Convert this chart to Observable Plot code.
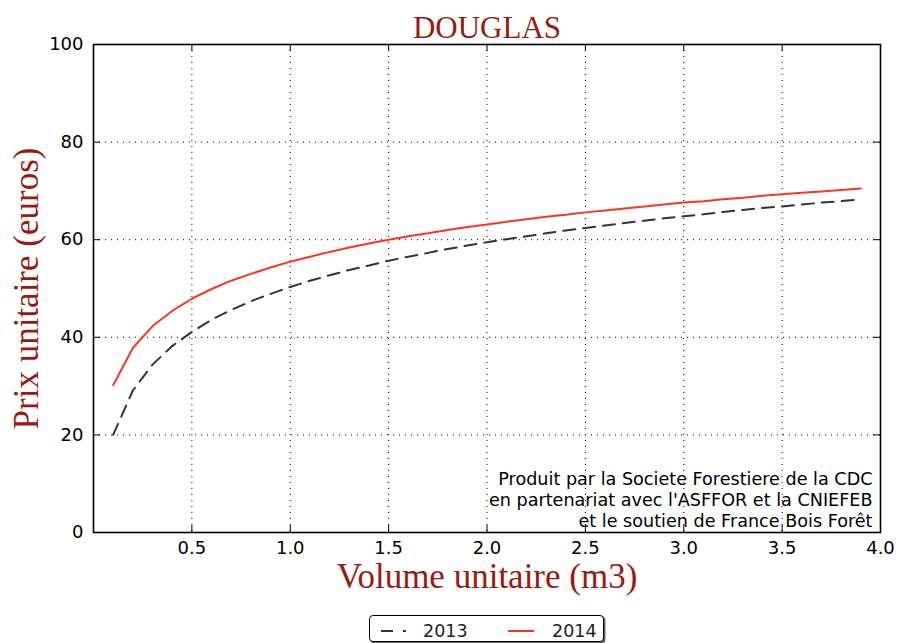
<!DOCTYPE html>
<html><head><meta charset="utf-8">
<script src="https://cdn.jsdelivr.net/npm/d3@7"></script>
<script src="https://cdn.jsdelivr.net/npm/@observablehq/plot@0.6"></script>
<style>
body{margin:0;background:#fff;}
#wrap{position:relative;width:898px;height:643px;overflow:hidden;background:#fff;}
#legend{position:absolute;left:369px;top:615px;width:233px;height:25px;border:1.5px solid #000;border-radius:4px;box-shadow:1.5px 1.5px 0 #666;background:#fff;}
#legend svg{position:absolute;left:0;top:0;}
</style></head><body><div id="wrap"></div>
<script>
const volumes = [0.1,0.2,0.3,0.4,0.5,0.6,0.7,0.8,0.9,1.0,1.1,1.2,1.3,1.4,1.5,1.6,1.7,1.8,1.9,2.0,2.1,2.2,2.3,2.4,2.5,2.6,2.7,2.8,2.9,3.0,3.1,3.2,3.3,3.4,3.5,3.6,3.7,3.8,3.9];
const prix2013 = [20.0,29.1,34.4,38.2,41.1,43.6,45.6,47.4,48.9,50.3,51.6,52.7,53.8,54.7,55.7,56.5,57.3,58.1,58.8,59.5,60.1,60.7,61.3,61.9,62.4,62.9,63.4,63.9,64.4,64.8,65.2,65.7,66.1,66.5,66.8,67.2,67.6,67.9,68.3];
const prix2014 = [30.2,37.8,42.3,45.4,47.9,49.9,51.6,53.0,54.3,55.5,56.5,57.5,58.4,59.2,60.0,60.7,61.3,62.0,62.6,63.1,63.7,64.2,64.7,65.1,65.6,66.0,66.4,66.8,67.2,67.6,67.9,68.3,68.6,69.0,69.3,69.6,69.9,70.2,70.5];
const seriesNames = ["2013", "2014"];
const xTicks = [0.5,1.0,1.5,2.0,2.5,3.0,3.5,4.0];
const yTicks = [0,20,40,60,80,100];
const xGrid = [0.5,1.0,1.5,2.0,2.5,3.0,3.5];
const yGrid = [20,40,60,80];
const titleText = "DOUGLAS";
const xLabel = "Volume unitaire (m3)";
const yLabel = "Prix unitaire (euros)";
const creditText = "Produit par la Societe Forestiere de la CDC\nen partenariat avec l'ASFFOR et la CNIEFEB\net le soutien de France Bois Forêt";

const rows2013 = volumes.map((v, i) => ({v, p: prix2013[i]}));
const rows2014 = volumes.map((v, i) => ({v, p: prix2014[i]}));

const W = 898, H = 643, mL = 93, mR = 18, mT = 44, mB = 111;
const frameH = H - mT - mB;
const frameW = W - mL - mR;
const dark = "#9a1a10";
const redLine = "#ff3322";
const tickLen = 7;

const chart = Plot.plot({
  width: W, height: H,
  marginLeft: mL, marginRight: mR, marginTop: mT, marginBottom: mB,
  style: {fontFamily: "DejaVu Sans", background: "#fff", color: "#000"},
  x: {domain: [0, 4]},
  y: {domain: [0, 100]},
  marks: [
    Plot.gridX(xGrid, {stroke: "#000", strokeOpacity: 1, strokeWidth: 1, strokeDasharray: "1,5"}),
    Plot.gridY(yGrid, {stroke: "#000", strokeOpacity: 1, strokeWidth: 1, strokeDasharray: "1,5"}),
    Plot.line(rows2013, {x: "v", y: "p", stroke: "#333", strokeWidth: 2, strokeDasharray: "12,8"}),
    Plot.line(rows2014, {x: "v", y: "p", stroke: redLine, strokeWidth: 2}),
    Plot.tickX(xTicks, {x: d => d, insetTop: frameH - tickLen, stroke: "#000"}),
    Plot.tickX(xTicks, {x: d => d, insetBottom: frameH - tickLen, stroke: "#000"}),
    Plot.tickY(yTicks, {y: d => d, insetRight: frameW - tickLen, stroke: "#000"}),
    Plot.tickY(yTicks, {y: d => d, insetLeft: frameW - tickLen, stroke: "#000"}),
    Plot.frame({stroke: "#000", strokeWidth: 1.6}),
    Plot.axisX(xTicks, {tickSize: 0, tickPadding: 9, fontSize: 18, tickFormat: d3.format(".1f"), label: null, fill: "#000"}),
    Plot.axisY(yTicks, {tickSize: 0, tickPadding: 10, fontSize: 18, label: null, fill: "#000"}),
    Plot.text([titleText], {text: d => d, frameAnchor: "top", textAnchor: "middle", lineAnchor: "middle", dy: -16, fontFamily: "Liberation Serif", fontSize: 31, fill: dark}),
    Plot.text([xLabel], {text: d => d, frameAnchor: "bottom", textAnchor: "middle", lineAnchor: "middle", dy: 44, fontFamily: "Liberation Serif", fontSize: 35, fill: dark}),
    Plot.text([yLabel], {text: d => d, frameAnchor: "left", textAnchor: "middle", lineAnchor: "middle", rotate: -90, dx: -67, fontFamily: "Liberation Serif", fontSize: 35, fill: dark}),
    Plot.text([creditText], {text: d => d, frameAnchor: "bottom-right", textAnchor: "end", lineAnchor: "bottom", lineHeight: 1.17, dx: -8, dy: -6, fontSize: 17.6, fill: "#000"})
  ]
});

const wrap = document.getElementById("wrap");
wrap.appendChild(chart);

// legend
const legend = document.createElement("div");
legend.id = "legend";
const ns = "http://www.w3.org/2000/svg";
const svg = document.createElementNS(ns, "svg");
svg.setAttribute("width", 236); svg.setAttribute("height", 28);
const legendItems = [
  {name: seriesNames[0], stroke: "#333", dash: "12,10", x0: 11, x1: 36, tx: 53},
  {name: seriesNames[1], stroke: redLine, dash: null, x0: 138, x1: 164, tx: 182}
];
for (const it of legendItems) {
  const l = document.createElementNS(ns, "line");
  l.setAttribute("x1", it.x0); l.setAttribute("x2", it.x1);
  l.setAttribute("y1", 15); l.setAttribute("y2", 15);
  l.setAttribute("stroke", it.stroke); l.setAttribute("stroke-width", 2);
  if (it.dash) l.setAttribute("stroke-dasharray", it.dash);
  svg.appendChild(l);
  const t = document.createElementNS(ns, "text");
  t.setAttribute("x", it.tx); t.setAttribute("y", 21);
  t.setAttribute("font-family", "DejaVu Sans"); t.setAttribute("font-size", 17.5);
  t.setAttribute("fill", "#222");
  t.textContent = it.name;
  svg.appendChild(t);
}
legend.appendChild(svg);
wrap.appendChild(legend);
</script></body></html>
